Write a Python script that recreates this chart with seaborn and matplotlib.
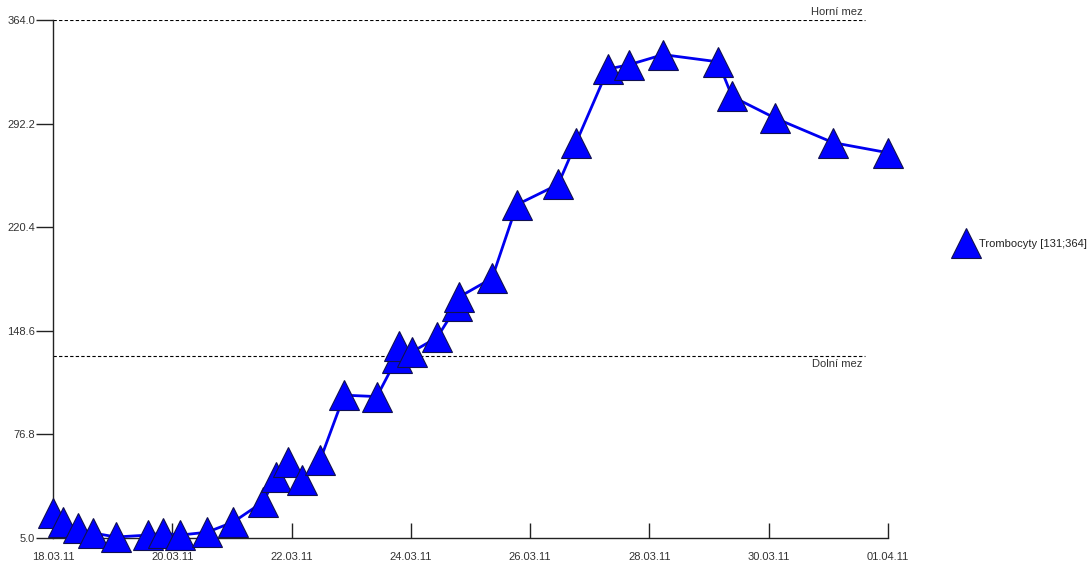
import matplotlib
matplotlib.use("Agg")
import matplotlib.pyplot as plt
import matplotlib.dates as mdates
from matplotlib.lines import Line2D
import seaborn as sns
import pandas as pd

times = [
    "2011-03-18 00:00", "2011-03-18 04:00", "2011-03-18 10:00", "2011-03-18 16:00",
    "2011-03-19 01:20", "2011-03-19 14:10", "2011-03-19 20:15", "2011-03-20 03:00",
    "2011-03-20 14:00", "2011-03-21 00:30", "2011-03-21 12:30", "2011-03-21 17:45",
    "2011-03-21 22:35", "2011-03-22 04:12", "2011-03-22 11:30", "2011-03-22 21:10",
    "2011-03-23 10:20", "2011-03-23 18:30", "2011-03-23 19:15", "2011-03-24 00:30",
    "2011-03-24 10:35", "2011-03-24 18:35", "2011-03-24 19:25", "2011-03-25 08:40",
    "2011-03-25 18:40", "2011-03-26 11:15", "2011-03-26 18:30", "2011-03-27 07:20",
    "2011-03-27 15:50", "2011-03-28 05:30", "2011-03-29 03:40", "2011-03-29 09:15",
    "2011-03-30 02:35", "2011-03-31 01:55", "2011-04-01 00:00",
]
values = [
    22, 16, 12, 8.5, 5.7, 7, 8.5, 7, 9, 16, 30, 47, 57.5, 45, 59, 104, 103,
    130, 138, 134, 144, 166, 172, 185, 236, 250, 279, 330, 333, 340, 335,
    311, 296, 279, 272,
]

lower_limit = 131
upper_limit = 364
series_name = "Trombocyty [131;364]"

y_ticks = [5.0, 76.8, 148.6, 220.4, 292.2, 364.0]
x_tick_dates = ["2011-03-18", "2011-03-20", "2011-03-22", "2011-03-24",
                "2011-03-26", "2011-03-28", "2011-03-30", "2011-04-01"]

df = pd.DataFrame({"time": pd.to_datetime(times), "value": values})

sns.set_style("white")
plt.rcParams["font.family"] = ["Liberation Sans", "DejaVu Sans"]

fig = plt.figure(figsize=(10.91, 5.65), dpi=100)
ax = fig.add_axes([53 / 1091, 27 / 565, 835 / 1091, 518 / 565])

blue = "#0000f0"
sns.lineplot(data=df, x="time", y="value", ax=ax, color=blue, linewidth=2.0,
             marker="^", markersize=21, markerfacecolor="#0000ff",
             markeredgecolor="#101050", markeredgewidth=0.8, clip_on=False,
             zorder=3)

# reference limits
for lim in (lower_limit, upper_limit):
    ax.axhline(lim, xmin=0, xmax=0.972, color="black", linewidth=0.8,
               linestyle=(0, (3, 2)), zorder=1)
trans = ax.get_yaxis_transform()
ax.text(0.939, upper_limit + 2, "Horní mez", transform=trans, ha="center",
        va="bottom", fontsize=8, color="#333333")
ax.text(0.939, lower_limit - 2, "Dolní mez", transform=trans, ha="center",
        va="top", fontsize=8, color="#333333")

ax.set_ylim(y_ticks[0], y_ticks[-1])
ax.set_xlim(df["time"].iloc[0], df["time"].iloc[-1])
ax.set_yticks(y_ticks)
ax.set_yticklabels([f"{v:.1f}" for v in y_ticks])
ax.set_xticks(pd.to_datetime(x_tick_dates))
ax.xaxis.set_major_formatter(mdates.DateFormatter("%d.%m.%y"))
ax.set_xlabel("")
ax.set_ylabel("")

for side in ("top", "right"):
    ax.spines[side].set_visible(False)
for side in ("left", "bottom"):
    ax.spines[side].set_color("#222222")
    ax.spines[side].set_linewidth(1.0)

ax.tick_params(axis="x", bottom=True, direction="in", length=11, width=1,
               color="#222222", labelsize=8, labelcolor="#333333", pad=10)
ax.tick_params(axis="y", left=True, direction="out", length=12, width=1,
               color="#222222", labelsize=8, labelcolor="#333333", pad=1)

handle = Line2D([], [], linestyle="none", marker="^", markersize=21,
                markerfacecolor="#0000ff", markeredgecolor="#101050",
                markeredgewidth=0.8)
fig.legend([handle], [series_name], loc="center left",
           bbox_to_anchor=(959 / 1091, 1 - 244 / 565), frameon=False,
           fontsize=8, handlelength=1.2, handletextpad=0.6, borderpad=0,
           borderaxespad=0, labelcolor="#222222")

fig.savefig("out.png", dpi=100)
